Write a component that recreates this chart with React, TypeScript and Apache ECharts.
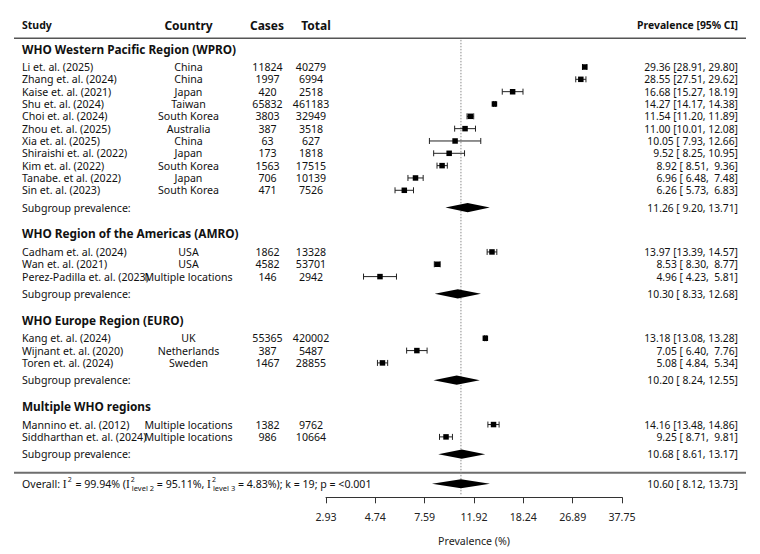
import React, { useEffect, useRef } from 'react';
import * as echarts from 'echarts';

const groupNames = [
  'WHO Western Pacific Region (WPRO)',
  'WHO Region of the Americas (AMRO)',
  'WHO Europe Region (EURO)',
  'Multiple WHO regions',
];

const studyNames = [
  'Li et. al. (2025)', 'Zhang et. al. (2024)', 'Kaise et. al. (2021)', 'Shu et. al. (2024)',
  'Choi et. al. (2024)', 'Zhou et. al. (2025)', 'Xia et. al. (2025)', 'Shiraishi et. al. (2022)',
  'Kim et. al. (2022)', 'Tanabe. et al. (2022)', 'Sin et. al. (2023)',
  'Cadham et. al. (2024)', 'Wan et. al. (2021)', 'Perez-Padilla et. al. (2023)',
  'Kang et. al. (2024)', 'Wijnant et. al. (2020)', 'Toren et. al. (2024)',
  'Mannino et. al. (2012)', 'Siddharthan et. al. (2024)',
];
const countries = [
  'China', 'China', 'Japan', 'Taiwan', 'South Korea', 'Australia', 'China', 'Japan',
  'South Korea', 'Japan', 'South Korea',
  'USA', 'USA', 'Multiple locations',
  'UK', 'Netherlands', 'Sweden',
  'Multiple locations', 'Multiple locations',
];
const cases = [11824, 1997, 420, 65832, 3803, 387, 63, 173, 1563, 706, 471, 1862, 4582, 146, 55365, 387, 1467, 1382, 986];
const totals = [40279, 6994, 2518, 461183, 32949, 3518, 627, 1818, 17515, 10139, 7526, 13328, 53701, 2942, 420002, 5487, 28855, 9762, 10664];
const prevalence = [29.36, 28.55, 16.68, 14.27, 11.54, 11.0, 10.05, 9.52, 8.92, 6.96, 6.26, 13.97, 8.53, 4.96, 13.18, 7.05, 5.08, 14.16, 9.25];
const ciLower = [28.91, 27.51, 15.27, 14.17, 11.2, 10.01, 7.93, 8.25, 8.51, 6.48, 5.73, 13.39, 8.3, 4.23, 13.08, 6.4, 4.84, 13.48, 8.71];
const ciUpper = [29.8, 29.62, 18.19, 14.38, 11.89, 12.08, 12.66, 10.95, 9.36, 7.48, 6.83, 14.57, 8.77, 5.81, 13.28, 7.76, 5.34, 14.86, 9.81];
const studyGroup = [0, 0, 0, 0, 0, 0, 0, 0, 0, 0, 0, 1, 1, 1, 2, 2, 2, 3, 3];

const subgroupPrev = [11.26, 10.3, 10.2, 10.68];
const subgroupLower = [9.2, 8.33, 8.24, 8.61];
const subgroupUpper = [13.71, 12.68, 12.55, 13.17];

const overallPrev = 10.6;
const overallLower = 8.12;
const overallUpper = 13.73;
const overallI2 = '99.94%';
const overallI2Level2 = '95.11%';
const overallI2Level3 = '4.83%';
const overallK = 19;
const overallP = '<0.001';

const tickLabels = ['2.93', '4.74', '7.59', '11.92', '18.24', '26.89', '37.75'];

const logit = (p: number) => Math.log(p / (100 - p));
const FONT = '"Noto Sans", "Open Sans", sans-serif';
const FS = 10.6;

function layoutRows() {
  const studyRow: number[] = [];
  const headerRow: number[] = [];
  const subRow: number[] = [];
  let r = 0;
  groupNames.forEach((_, gi) => {
    const idx = studyGroup.map((g, i) => (g === gi ? i : -1)).filter((i) => i >= 0);
    headerRow[gi] = r - 1.5;
    idx.forEach((i, k) => (studyRow[i] = r + k));
    subRow[gi] = r + idx.length - 1 + 1.4;
    r = subRow[gi] + 3.6;
  });
  const sepRow = subRow[subRow.length - 1] + 1.5;
  const overallRow = sepRow + 0.9;
  return { studyRow, headerRow, subRow, sepRow, overallRow };
}

const fmtCI = (p: number, lo: number, hi: number) =>
  `${p.toFixed(2)} [${lo.toFixed(2).padStart(5, ' ')}, ${hi.toFixed(2).padStart(5, ' ')}]`;

export default function App() {
  const ref = useRef<HTMLDivElement>(null);
  useEffect(() => {
    document.body.style.margin = '0';
    const el = ref.current!;
    const chart = echarts.init(el, null, { renderer: 'svg' });
    const { studyRow, headerRow, subRow, sepRow, overallRow } = layoutRows();
    const yMin = -4;
    const yMax = 34.9;

    const studyData = prevalence.map((p, i) => [logit(p), studyRow[i], logit(ciLower[i]), logit(ciUpper[i])]);
    const diamondData = subgroupPrev.map((p, g) => [logit(p), subRow[g], logit(subgroupLower[g]), logit(subgroupUpper[g])]);
    diamondData.push([logit(overallPrev), overallRow, logit(overallLower), logit(overallUpper)]);

    chart.setOption({
      animation: false,
      grid: { left: 326, right: 138, top: 17.68, bottom: 56.7, containLabel: false },
      xAxis: {
        type: 'value',
        min: -3.5,
        max: -0.5,
        interval: 0.5,
        splitLine: { show: false },
        axisLine: { show: true, onZero: false, lineStyle: { color: '#333', width: 1 } },
        axisTick: { show: true, length: 6, lineStyle: { color: '#333' } },
        axisLabel: {
          margin: 14,
          fontSize: FS,
          fontFamily: FONT,
          color: '#222',
          formatter: (v: number) => tickLabels[Math.round((v + 3.5) / 0.5)] ?? '',
        },
        name: 'Prevalence (%)',
        nameLocation: 'middle',
        nameGap: 38,
        nameTextStyle: { fontSize: FS, fontFamily: FONT, color: '#222' },
      },
      yAxis: { type: 'value', inverse: true, min: yMin, max: yMax, show: false },
      series: [
        {
          type: 'line',
          data: [[logit(overallPrev), -2.2], [logit(overallPrev), yMax - 0.15]],
          symbol: 'none',
          lineStyle: { color: '#8a8a8a', width: 1, type: [1.5, 1.5] },
          silent: true,
          z: 1,
        },
        {
          type: 'custom',
          data: studyData,
          encode: { x: [0, 2, 3], y: 1 },
          z: 3,
          renderItem: (params: any, api: any) => {
            const c = api.coord([api.value(0), api.value(1)]);
            const lo = api.coord([api.value(2), api.value(1)]);
            const hi = api.coord([api.value(3), api.value(1)]);
            const y = c[1];
            const st = { stroke: '#222', lineWidth: 1 };
            const s = 5.5;
            return {
              type: 'group',
              children: [
                { type: 'line', shape: { x1: lo[0], y1: y, x2: hi[0], y2: y }, style: st },
                { type: 'line', shape: { x1: lo[0], y1: y - 3, x2: lo[0], y2: y + 3 }, style: st },
                { type: 'line', shape: { x1: hi[0], y1: y - 3, x2: hi[0], y2: y + 3 }, style: st },
                { type: 'rect', shape: { x: c[0] - s / 2, y: y - s / 2, width: s, height: s }, style: { fill: '#000' } },
              ],
            };
          },
        },
        {
          type: 'custom',
          data: diamondData,
          encode: { x: [0, 2, 3], y: 1 },
          z: 3,
          renderItem: (params: any, api: any) => {
            const c = api.coord([api.value(0), api.value(1)]);
            const lo = api.coord([api.value(2), api.value(1)]);
            const hi = api.coord([api.value(3), api.value(1)]);
            const y = c[1];
            const h = 4.6;
            return {
              type: 'polygon',
              shape: { points: [[lo[0], y], [c[0], y - h], [hi[0], y], [c[0], y + h]] },
              style: { fill: '#000' },
            };
          },
        },
      ],
    });

    const py = (row: number) => (chart.convertToPixel({ gridIndex: 0 } as any, [-2, row]) as number[])[1];
    const txt = (x: number, y: number, text: string, align: string, extra: any = {}) => ({
      type: 'text',
      x,
      y,
      silent: true,
      style: {
        text,
        align,
        verticalAlign: 'middle',
        fontSize: FS,
        lineHeight: 11,
        fontFamily: FONT,
        fill: '#111',
        ...extra,
      },
    });

    const g: any[] = [];
    const headY = py(-3.4);
    const bold = { fontWeight: 'bold' };
    g.push(txt(22, headY, 'Study', 'left', { ...bold, fontSize: 10.5 }));
    g.push(txt(188.5, headY, 'Country', 'center', { ...bold, fontSize: 12 }));
    g.push(txt(267, headY, 'Cases', 'center', { ...bold, fontSize: 12 }));
    g.push(txt(316, headY, 'Total', 'center', { ...bold, fontSize: 12 }));
    g.push(txt(738, headY, 'Prevalence [95% CI]', 'right', { ...bold, fontSize: 10.4 }));
    g.push({ type: 'line', silent: true, shape: { x1: 14, y1: py(-2.33), x2: 746, y2: py(-2.33) }, style: { stroke: '#555', lineWidth: 1.3 } });

    groupNames.forEach((name, gi) => {
      g.push(txt(22, py(headerRow[gi]), name, 'left', { fontWeight: 'bold', fontSize: 11.8, lineHeight: 12 }));
      g.push(txt(22, py(subRow[gi]), 'Subgroup prevalence:', 'left'));
      g.push(txt(738, py(subRow[gi]), fmtCI(subgroupPrev[gi], subgroupLower[gi], subgroupUpper[gi]), 'right', { fontSize: 10.3 }));
    });

    studyNames.forEach((name, i) => {
      const y = py(studyRow[i]);
      g.push(txt(22, y, name, 'left'));
      g.push(txt(188.5, y, countries[i], 'center'));
      g.push(txt(267.5, y, String(cases[i]), 'center'));
      g.push(txt(311, y, String(totals[i]), 'center'));
      g.push(txt(738, y, fmtCI(prevalence[i], ciLower[i], ciUpper[i]), 'right', { fontSize: 10.3 }));
    });

    g.push({ type: 'line', silent: true, shape: { x1: 14, y1: py(sepRow), x2: 746, y2: py(sepRow) }, style: { stroke: '#6e6e6e', lineWidth: 2 } });

    const oy = py(overallRow);
    g.push({
      type: 'text',
      x: 22,
      y: oy,
      silent: true,
      style: {
        text:
          `{t|Overall: }{i|I}{sup|2}{t| = ${overallI2} (}{i|I}{sup2|2}{sub|level 2}{t| = ${overallI2Level2}, }` +
          `{i|I}{sup2|2}{sub|level 3}{t| = ${overallI2Level3}); k = ${overallK}; p = ${overallP}}`,
        verticalAlign: 'middle',
        align: 'left',
        fill: '#111',
        rich: {
          t: { fontSize: FS, fontFamily: FONT, fill: '#111', lineHeight: 16, verticalAlign: 'middle' },
          i: { fontSize: 11.5, fontFamily: '"Liberation Serif", "DejaVu Serif", serif', fill: '#111', lineHeight: 16, verticalAlign: 'middle' },
          sup: { fontSize: 7, fontFamily: FONT, fill: '#111', lineHeight: 10, verticalAlign: 'top', padding: [0, 1, 0, 1] },
          sup2: { fontSize: 7, fontFamily: FONT, fill: '#111', lineHeight: 10, verticalAlign: 'top', width: 0, padding: [0, 0, 0, 1] },
          sub: { fontSize: 7.5, fontFamily: FONT, fill: '#111', lineHeight: 9, verticalAlign: 'bottom', padding: [0, 0, 0, 1] },
        },
      },
    });
    g.push(txt(738, oy, fmtCI(overallPrev, overallLower, overallUpper), 'right', { fontSize: 10.3 }));

    chart.setOption({ graphic: g });
    return () => chart.dispose();
  }, []);
  return <div ref={ref} style={{ width: 760, height: 554 }} />;
}
